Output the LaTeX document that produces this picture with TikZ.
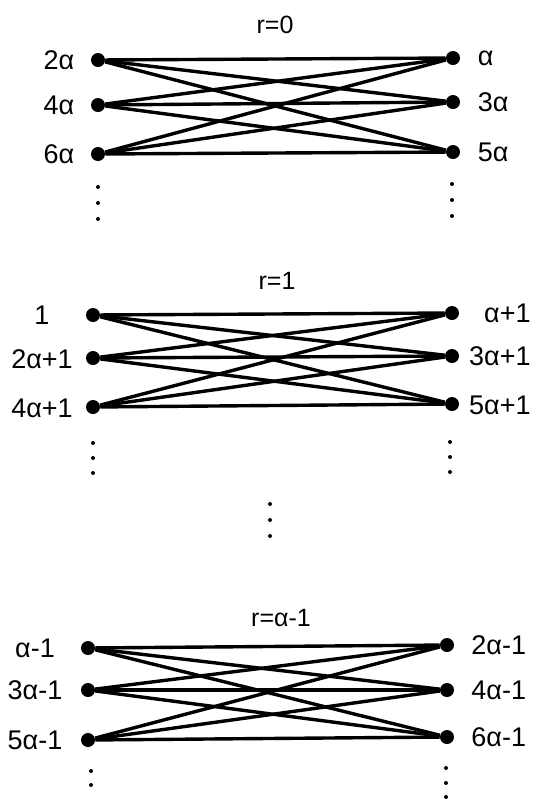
\documentclass[tikz,border=0pt]{standalone}
\usepackage{fontspec}
\setmainfont{Liberation Sans}
\usetikzlibrary{positioning}

\begin{document}
\begin{tikzpicture}[x=0.5pt,y=-0.5pt,
 v/.style={circle,fill,inner sep=0pt,minimum size=7pt},
 e/.style={line width=1.7pt},
 lab/.style={font=\fontsize{13.5}{15}\selectfont,inner sep=0pt},
 ttl/.style={font=\fontsize{12.5}{14}\selectfont,inner sep=0pt},
 pt/.style={circle,fill,inner sep=0pt,minimum size=2pt}]
\useasboundingbox (0,0) rectangle (541,799);
% r=0
\node[ttl] (t0) at (275,25) {r=0};
\foreach \y [count=\i] in {60,105,154} \node[v] (zl\i) at (98,\y) {};
\foreach \y [count=\i] in {58,102,152} \node[v] (zr\i) at (453,\y) {};
\foreach \i in {1,2,3} \foreach \j in {1,2,3} \draw[e] (zl\i)--(zr\j);
\node[lab,left=8pt of zl1] {2α};
\node[lab,left=8pt of zl2] {4α};
\node[lab,left=8pt of zl3] {6α};
\node[lab,right=8.5pt of zr1] {α};
\node[lab,right=8.5pt of zr2] {3α};
\node[lab,right=8.5pt of zr3] {5α};
\foreach \y [count=\i] in {187,203,219} \node[pt] (zdl\i) at (98,\y) {};
\foreach \y [count=\i] in {184,200,216} \node[pt] (zdr\i) at (452,\y) {};
% r=1
\node[ttl] (t1) at (277,281) {r=1};
\foreach \y [count=\i] in {315,358,407} \node[v] (ol\i) at (93,\y) {};
\foreach \y [count=\i] in {313,356,404} \node[v] (or\i) at (452,\y) {};
\foreach \i in {1,2,3} \foreach \j in {1,2,3} \draw[e] (ol\i)--(or\j);
\node[lab] (ola1) at (42,315) {1};
\node[lab] (ola2) at (42,359) {2α+1};
\node[lab] (ola3) at (42,408) {4α+1};
\node[lab,anchor=east] (ora1) at (531,313) {α+1};
\node[lab,anchor=east] (ora2) at (531,356) {3α+1};
\node[lab,anchor=east] (ora3) at (531,405) {5α+1};
\foreach \y [count=\i] in {443,458,473} \node[pt] (odl\i) at (93,\y) {};
\foreach \y [count=\i] in {442,457,472} \node[pt] (odr\i) at (450,\y) {};
\foreach \y [count=\i] in {504,520,536} \node[pt] (mid\i) at (270,\y) {};
% r=alpha-1
\node[ttl] (t2) at (281,618) {r=α-1};
\foreach \y [count=\i] in {648,690,740} \node[v] (ml\i) at (88,\y) {};
\foreach \y [count=\i] in {645,690,737} \node[v] (mr\i) at (447,\y) {};
\foreach \i in {1,2,3} \foreach \j in {1,2,3} \draw[e] (ml\i)--(mr\j);
\node[lab] (mla1) at (35,648) {α-1};
\node[lab] (mla2) at (35,690) {3α-1};
\node[lab] (mla3) at (35,740) {5α-1};
\node[lab,anchor=west] (mra1) at (471,645) {2α-1};
\node[lab,anchor=west] (mra2) at (471,690) {4α-1};
\node[lab,anchor=west] (mra3) at (471,737) {6α-1};
\foreach \y [count=\i] in {771,785} \node[pt] (mdl\i) at (91,\y) {};
\foreach \y [count=\i] in {768,783,797} \node[pt] (mdr\i) at (446,\y) {};
\end{tikzpicture}
\end{document}
